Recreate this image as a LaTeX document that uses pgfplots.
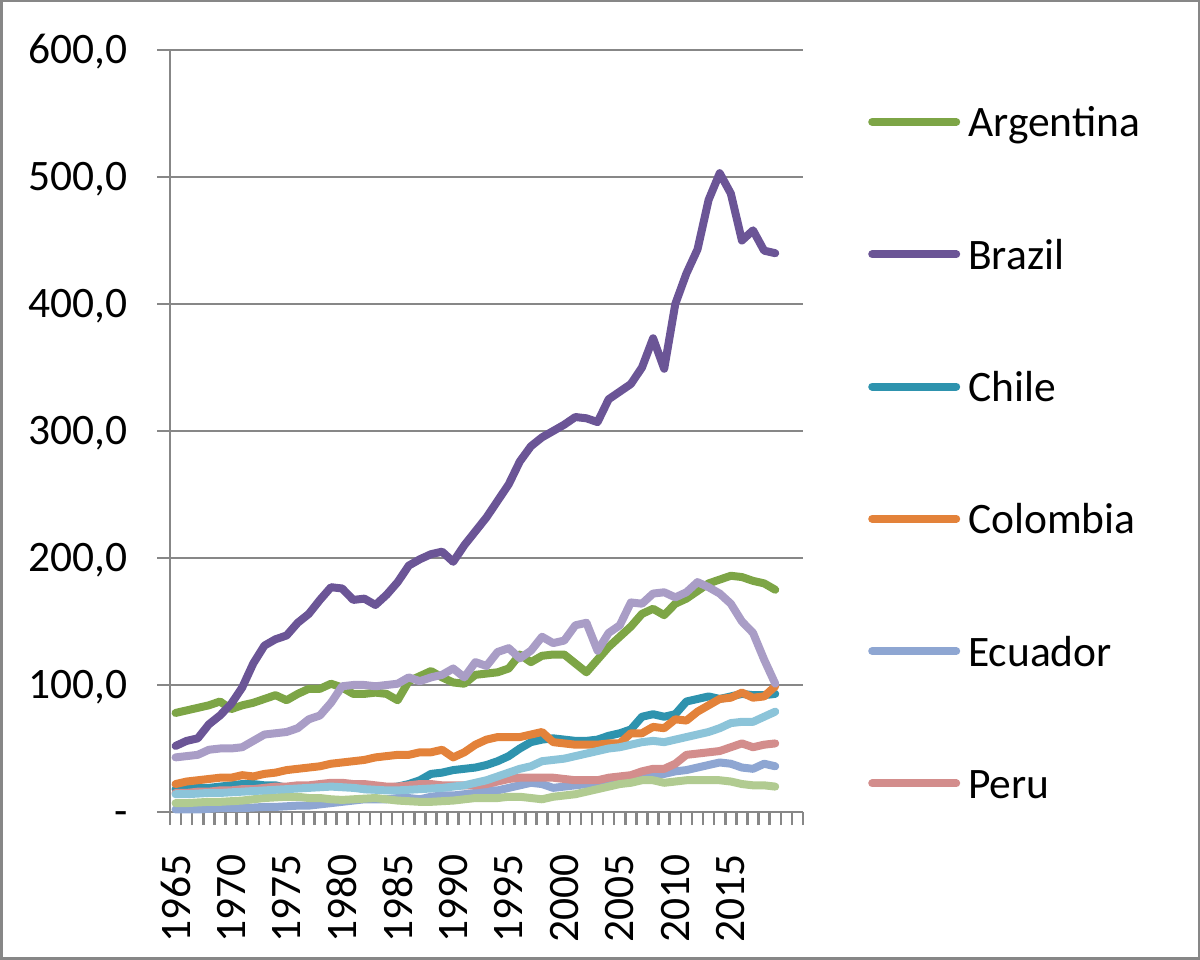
\documentclass[border=0pt]{standalone}
\usepackage{fontspec}
\setmainfont{Carlito}
\usepackage{pgfplots}
\usepackage{pgfplotstable}
\pgfplotsset{compat=1.18}
\definecolor{gridgray}{HTML}{878787}
\definecolor{cArg}{HTML}{7DA546}
\definecolor{cBra}{HTML}{6B5596}
\definecolor{cChi}{HTML}{2E93AE}
\definecolor{cCol}{HTML}{E3823A}
\definecolor{cEcu}{HTML}{8EA6D2}
\definecolor{cPer}{HTML}{D38D8C}
\definecolor{cTri}{HTML}{B1CB91}
\definecolor{cVen}{HTML}{A99DC6}
\definecolor{cOth}{HTML}{8CC4D9}
\newcommand\lbl{\fontsize{43.5bp}{52bp}\selectfont}
\pgfplotstableread{
year arg bra chi col ecu per tri ven oth
1965 78 52 18 22 2 15 7 43 14
1966 80 56 18 24 2 15 7 44 14
1967 82 58 19 25 2 16 7.5 45 14.5
1968 84 69 19 26 2.5 16 8 49 15
1969 87 76 20 27 3 17 8 50 15
1970 81 85 21 27 3 17 8.5 50 15.5
1971 84 98 22 29 3 18 9 51 16
1972 86 117 22 28 3.5 18 10 56 16.5
1973 89 131 21 30 4 19 11 61 17
1974 92 136 21 31 4 20 11.5 62 17.5
1975 88 139 19 33 4.5 20 12 63 18
1976 93 149 19 34 5 21 12 66 18.5
1977 97 156 20 35 5 21 11 73 19
1978 97 167 20 36 6 22 11 76 19.5
1979 101 177 21 38 7 23 10 86 20
1980 98 176 21 39 8 23 9.5 99 19.5
1981 93 167 20 40 9 22 10 100 19
1982 93 168 18 41 10 22 10.5 100 18
1983 94 163 18 43 10 21 11 99 17.5
1984 93 171 19 44 10 20 10 100 17
1985 88 181 20 45 11 20 9 101 17
1986 103 194 22 45 11 21 8.5 106 17.5
1987 107 199 25 47 10 22 8 103 18
1988 111 203 30 47 12 22 8 106 18.5
1989 106 205 31 49 13 21 8.5 108 19
1990 102 197 33 43 13 21 9 113 20
1991 101 210 34 47 14 21 10 106 21
1992 108 221 35 53 15 21 11 118 23
1993 109 232 37 57 17 22 11 115 25
1994 110 245 40 59 17 24 11 126 28
1995 113 258 44 59 19 26 12 129 31
1996 124 276 50 59 21 27 12 121 34
1997 118 288 55 61 23 27 11 127 36
1998 123 295 57 63 22 27 10 138 40
1999 124 300 58 55 19 27 12 133 41
2000 124 305 57 54 20 26 13 135 42
2001 117 311 56 53 21 25 14 147 44
2002 110 310 56 53 22 25 16 149 46
2003 120 307 57 53 23 25 18 127 48
2004 130 325 60 54 25 27 20 141 50
2005 138 331 62 54 27 28 22 147 51
2006 146 337 65 62 28 29 23 165 53
2007 156 350 75 62 29 32 25 164 55
2008 160 373 77 67 29 34 25 172 56
2009 155 349 75 66 30 34 23 173 55
2010 164 400 77 73 32 38 24 169 57
2011 168 424 87 72 33 45 25 173 59
2012 174 443 89 79 35 46 25 181 61
2013 180 482 91 84 37 47 25 177 63
2014 183 503 89 89 39 48 25 172 66
2015 186 487 91 90 38 51 24 164 70
2016 185 450 93 94 35 54 22 150 71
2017 182 458 92 90 34 51 21 141 71
2018 180 442 92 91 38 53 21 120 75
2019 175 440 93 99 36 54 20 101 79
}\data
\begin{document}
\begin{tikzpicture}
\path (0bp,0bp) rectangle (1200bp,960bp);
\draw[line width=2.5bp, gridgray] (1.25bp,1.25bp) rectangle (1198.75bp,958.75bp);
\begin{axis}[
  at={(170bp,148bp)}, anchor=south west,
  scale only axis, width=633bp, height=762bp,
  xmin=1964.5, xmax=2021.5, ymin=0, ymax=600,
  axis x line*=bottom, axis y line*=left,
  axis line style={draw=gridgray, line width=2.5bp, -},
  ytick={0,100,200,300,400,500,600},
  yticklabels={-,{100,0},{200,0},{300,0},{400,0},{500,0},{600,0}},
  xtick={1964.5,1965.5,...,2021.5},
  xticklabels={},
  extra x ticks={1965,1970,1975,1980,1985,1990,1995,2000,2005,2010,2015},
  extra x tick labels={1965,1970,1975,1980,1985,1990,1995,2000,2005,2010,2015},
  extra x tick style={major tick length=0pt, tick style={draw=none}, grid=none,
    xticklabel style={font=\lbl, yshift=-42bp, rotate=90, anchor=east, inner sep=0pt}},
  ymajorgrids, major grid style={gridgray, line width=2.5bp},
  tick align=outside, major tick length=13bp,
  every tick/.style={gridgray, line width=2.5bp},
  yticklabel style={font=\lbl, anchor=base east, inner sep=0pt, xshift=-29bp, yshift=-13.7bp},
  /pgf/number format/assume math mode=true,
  clip=false,
  every axis plot/.append style={line width=8bp, line join=round, line cap=round, no markers},
  legend style={draw=none, fill=none, at={(axis description cs:1.1027,0.9111)}, anchor=north west,
    font=\lbl, inner sep=0pt, row sep=111.3bp,
    nodes={inner sep=0pt, text height=0.7em, text depth=0.2em},
    /tikz/every odd column/.append style={column sep=8bp}},
  legend cell align=left,
  legend image code/.code={\path (0bp,0bp); \draw[#1] (0bp,12.5bp) -- (84bp,12.5bp);},
]
\addplot[cArg] table[x=year,y=arg]{\data}; \addlegendentry{Argentina}
\addplot[cBra] table[x=year,y=bra]{\data}; \addlegendentry{Brazil}
\addplot[cChi] table[x=year,y=chi]{\data}; \addlegendentry{Chile}
\addplot[cCol] table[x=year,y=col]{\data}; \addlegendentry{Colombia}
\addplot[cEcu] table[x=year,y=ecu]{\data}; \addlegendentry{Ecuador}
\addplot[cPer] table[x=year,y=per]{\data}; \addlegendentry{Peru}
\addplot[cTri, forget plot] table[x=year,y=tri]{\data};
\addplot[cVen, forget plot] table[x=year,y=ven]{\data};
\addplot[cOth, forget plot] table[x=year,y=oth]{\data};
\end{axis}
\end{tikzpicture}
\end{document}
